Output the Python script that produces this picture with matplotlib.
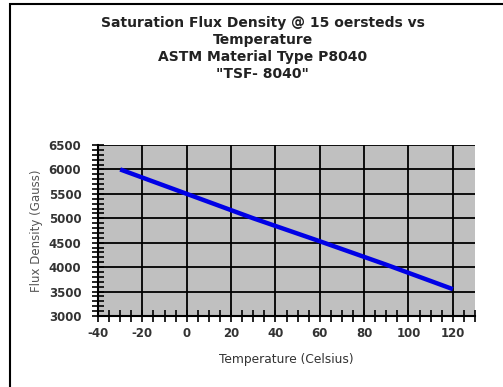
import matplotlib.pyplot as plt
from matplotlib.ticker import MultipleLocator
from matplotlib.patches import Rectangle

# data
temps = [-30, 0, 30, 60, 90, 120]
flux = [6000, 5500, 5000, 4530, 4050, 3550]

title_lines = ['Saturation Flux Density @ 15 oersteds vs', 'Temperature',
               'ASTM Material Type P8040', '"TSF- 8040"']

plt.rcParams['font.family'] = ['DejaVu Sans']
plt.rcParams['axes.unicode_minus'] = False

fig = plt.figure(figsize=(5.03, 3.87), dpi=100)
ax = fig.add_axes([98 / 503, 1 - 316 / 387, (475 - 98) / 503, (316 - 145) / 387])

# outer frame of the chart area
fig.patches.append(Rectangle((10 / 503, -0.1), 1.2, 1 - 4 / 387 + 0.1,
                             transform=fig.transFigure, fill=False,
                             edgecolor='black', linewidth=1.5))

ax.set_facecolor('#c0c0c0')
ax.plot(temps, flux, color='#0000e6', linewidth=3.2, solid_capstyle='butt', zorder=3)

ax.set_xlim(-40, 130)
ax.set_ylim(3000, 6500)
ax.xaxis.set_major_locator(MultipleLocator(20))
ax.xaxis.set_minor_locator(MultipleLocator(5))
ax.yaxis.set_major_locator(MultipleLocator(500))
ax.yaxis.set_minor_locator(MultipleLocator(100))
ax.grid(True, which='major', color='black', linewidth=1.3, zorder=1)
ax.set_axisbelow(True)

ax.tick_params(which='both', direction='inout', length=8, width=1.2,
               colors='black', labelcolor='#333333', labelsize=8.5)
for lab in ax.get_xticklabels() + ax.get_yticklabels():
    lab.set_fontweight('bold')
ax.tick_params(axis='x', pad=4)
ax.tick_params(axis='y', pad=8)

for side in ['top', 'right']:
    ax.spines[side].set_visible(False)
for side in ['left', 'bottom']:
    ax.spines[side].set_linewidth(1.5)

ax.set_xlabel('Temperature (Celsius)', fontsize=8.8, color='#333333', labelpad=9)
ax.set_ylabel('Flux Density (Gauss)', fontsize=8.5, color='#555555', labelpad=4)

for i, line in enumerate(title_lines):
    fig.text(0.522, 1 - (23 + i * 17) / 387, line, ha='center', va='center',
             fontsize=10, fontweight='bold', color='#222222')

fig.savefig('out.png', dpi=100)
